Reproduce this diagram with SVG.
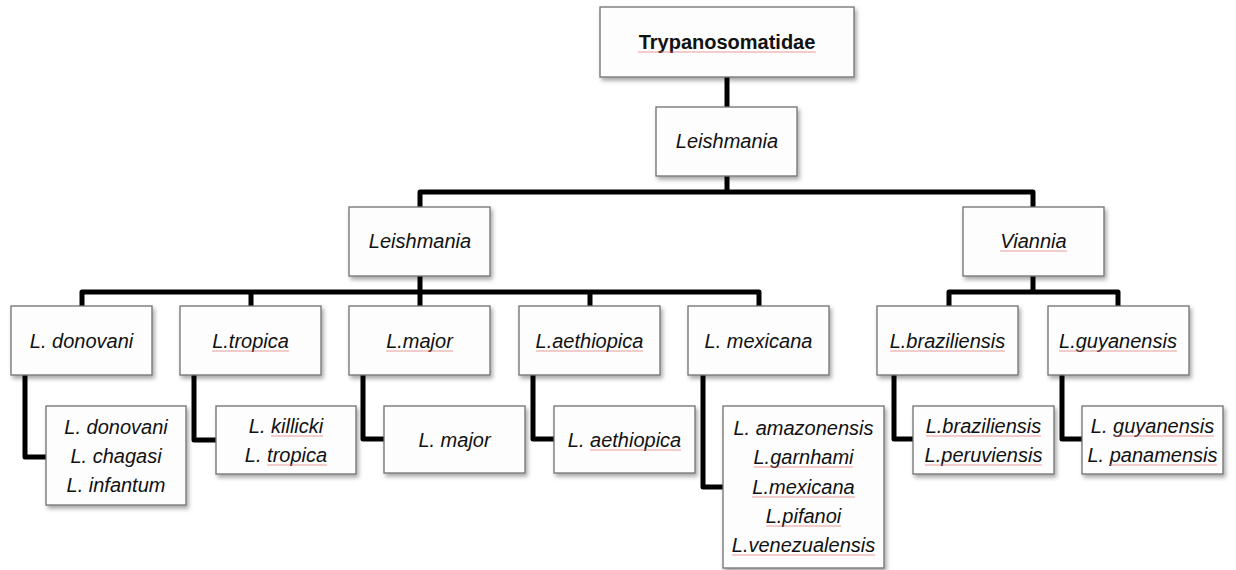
<svg xmlns="http://www.w3.org/2000/svg" width="1236" height="570" viewBox="0 0 1236 570">
<defs>
<filter id="sh" x="-10%" y="-10%" width="125%" height="135%">
<feDropShadow dx="2" dy="3" stdDeviation="2" flood-color="#000" flood-opacity="0.35"/>
</filter>
</defs>
<style>
.box{fill:#fdfdfd;stroke:#707070;stroke-width:1.3;filter:url(#sh)}
.t{font-family:"Liberation Sans",Arial,sans-serif;font-size:20px;font-style:italic;fill:#111;text-anchor:middle}
.b{font-family:"Liberation Sans",Arial,sans-serif;font-size:20px;font-weight:bold;fill:#111;text-anchor:middle}
.c{fill:none;stroke:#000;stroke-width:5;stroke-linejoin:round;stroke-linecap:butt}
.u{stroke:#e07070;stroke-width:1;opacity:0.7}
</style>
<g id="connectors">
<path class="c" d="M727,77 V107"/>
<path class="c" d="M727,176 V192"/>
<path class="c" d="M420,207 V192 H1033 V207"/>
<path class="c" d="M420,276 V306"/>
<path class="c" d="M82,306 V292 H759 V306"/>
<path class="c" d="M251,292 V306"/>
<path class="c" d="M590,292 V306"/>
<path class="c" d="M1033,276 V292"/>
<path class="c" d="M949,306 V292 H1118 V306"/>
<path class="c" d="M25,375 V457 H46"/>
<path class="c" d="M194,375 V440 H216"/>
<path class="c" d="M363,375 V439 H384"/>
<path class="c" d="M533,375 V439 H554"/>
<path class="c" d="M703,375 V487 H723"/>
<path class="c" d="M894,375 V439 H913"/>
<path class="c" d="M1062,375 V439 H1082"/>
</g>
<g id="trypanosomatidae">
<rect class="box" x="600" y="7" width="254" height="70"/>
<text class="b" x="727" y="49">Trypanosomatidae</text>
<line class="u" x1="638" y1="52" x2="816" y2="52"/>
</g>
<g id="leishmania-genus">
<rect class="box" x="656" y="107" width="141" height="69"/>
<text class="t" x="727" y="148">Leishmania</text>
</g>
<g id="leishmania-subgenus">
<rect class="box" x="349" y="207" width="141" height="69"/>
<text class="t" x="420" y="248">Leishmania</text>
</g>
<g id="viannia">
<rect class="box" x="963" y="207" width="141" height="69"/>
<text class="t" x="1033.5" y="248">Viannia</text>
<line class="u" x1="1000" y1="251" x2="1067" y2="251"/>
</g>
<g id="l-donovani">
<rect class="box" x="11" y="306" width="141" height="69"/>
<text class="t" x="81.5" y="348">L. donovani</text>
</g>
<g id="l-tropica">
<rect class="box" x="180" y="306" width="141" height="69"/>
<text class="t" x="250.5" y="348">L.tropica</text>
<line class="u" x1="212" y1="351" x2="289" y2="351"/>
</g>
<g id="l-major">
<rect class="box" x="349" y="306" width="141" height="69"/>
<text class="t" x="419.5" y="348">L.major</text>
<line class="u" x1="386" y1="351" x2="453" y2="351"/>
</g>
<g id="l-aethiopica">
<rect class="box" x="519" y="306" width="141" height="69"/>
<text class="t" x="589.5" y="348">L.aethiopica</text>
<line class="u" x1="536" y1="351" x2="643" y2="351"/>
</g>
<g id="l-mexicana">
<rect class="box" x="688" y="306" width="141" height="69"/>
<text class="t" x="758.5" y="348">L. mexicana</text>
</g>
<g id="l-braziliensis">
<rect class="box" x="877" y="306" width="141" height="69"/>
<text class="t" x="947.5" y="348">L.braziliensis</text>
<line class="u" x1="890" y1="351" x2="1005" y2="351"/>
</g>
<g id="l-guyanensis">
<rect class="box" x="1048" y="306" width="141" height="69"/>
<text class="t" x="1118" y="348">L.guyanensis</text>
<line class="u" x1="1059" y1="351" x2="1177" y2="351"/>
</g>
<g id="donovani-species">
<rect class="box" x="46" y="406" width="140" height="99"/>
<text class="t" x="116" y="434">L. donovani</text>
<text class="t" x="116" y="463">L. chagasi</text>
<text class="t" x="116" y="492">L. infantum</text>
</g>
<g id="tropica-species">
<rect class="box" x="216" y="406" width="140" height="68"/>
<text class="t" x="286" y="433">L. killicki</text>
<text class="t" x="286" y="462">L. tropica</text>
<line class="u" x1="271" y1="436" x2="323" y2="436"/>
<line class="u" x1="267" y1="465" x2="327" y2="465"/>
</g>
<g id="major-species">
<rect class="box" x="384" y="406" width="141" height="67"/>
<text class="t" x="454.5" y="447">L. major</text>
</g>
<g id="aethiopica-species">
<rect class="box" x="554" y="406" width="141" height="67"/>
<text class="t" x="624.5" y="447">L. aethiopica</text>
<line class="u" x1="590" y1="450" x2="681" y2="450"/>
</g>
<g id="mexicana-species">
<rect class="box" x="723" y="406" width="161" height="162"/>
<text class="t" x="803.5" y="435">L. amazonensis</text>
<text class="t" x="803.5" y="464">L.garnhami</text>
<text class="t" x="803.5" y="494">L.mexicana</text>
<text class="t" x="803.5" y="523">L.pifanoi</text>
<text class="t" x="803.5" y="552">L.venezualensis</text>
<line class="u" x1="754" y1="467" x2="853" y2="467"/>
<line class="u" x1="752" y1="497" x2="855" y2="497"/>
<line class="u" x1="766" y1="526" x2="841" y2="526"/>
<line class="u" x1="732" y1="555" x2="875" y2="555"/>
</g>
<g id="braziliensis-species">
<rect class="box" x="913" y="406" width="141" height="68"/>
<text class="t" x="983.5" y="433">L.braziliensis</text>
<text class="t" x="983.5" y="462">L.peruviensis</text>
<line class="u" x1="926" y1="436" x2="1041" y2="436"/>
<line class="u" x1="925" y1="465" x2="1042" y2="465"/>
</g>
<g id="guyanensis-species">
<rect class="box" x="1082" y="406" width="141" height="68"/>
<text class="t" x="1152.5" y="433">L. guyanensis</text>
<text class="t" x="1152.5" y="462">L. panamensis</text>
<line class="u" x1="1113" y1="436" x2="1214" y2="436"/>
<line class="u" x1="1110" y1="465" x2="1217" y2="465"/>
</g>
</svg>
